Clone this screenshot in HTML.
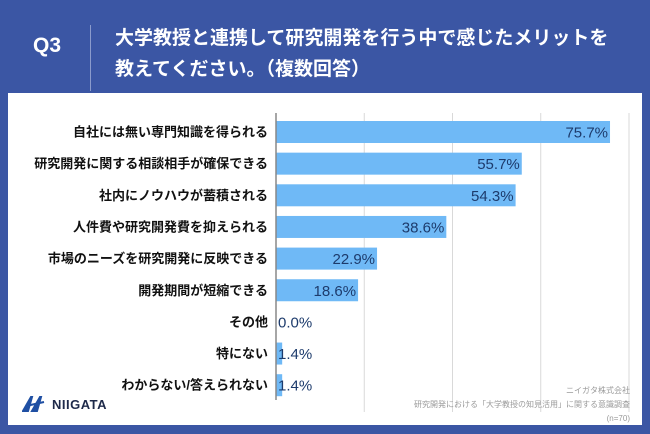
<!DOCTYPE html>
<html><head><meta charset="utf-8">
<style>
html,body{margin:0;padding:0}
body{width:650px;height:434px;background:#3b56a4;position:relative;overflow:hidden;font-family:"Liberation Sans","Noto Sans CJK JP",sans-serif}
#panel{position:absolute;left:8px;top:93px;width:634px;height:332px;background:#fff}
</style></head><body>
<div>
<div style="position:absolute;left:33px;top:34px;color:#fff;font-weight:bold;font-size:21px">Q3</div>
<div style="position:absolute;left:90px;top:25px;width:1px;height:66px;background:#8b9bcc"></div>
<div style="position:absolute;left:115px;top:23px;color:#fff;font-weight:bold;font-size:19px;line-height:31px;font-family:'Liberation Sans','Noto Sans CJK JP',sans-serif">大学教授と連携して研究開発を行う中で感じたメリットを<br>教えてください。（複数回答）</div>
</div>
<div id="panel"></div>
<svg id="chart" width="650" height="434" style="position:absolute;left:0;top:0"></svg>
<div style="position:absolute;right:20px;top:384px;text-align:right;color:#9a9a9a;font-size:8px;line-height:14px">ニイガタ株式会社<br>研究開発における「大学教授の知見活用」に関する意識調査<br>(n=70)</div>
<div style="position:absolute;left:22px;top:396px;display:flex;align-items:center;gap:6px">
<svg width="24" height="16" viewBox="0 0 24 16"><path d="M1 15 L9 1 L10 1 L6 15 Z M10 15 L18 1 L19 1 L15 15 Z M4 10 L22 6" stroke="#1f4fa3" stroke-width="2" fill="#1f4fa3"/></svg>
<span style="font-weight:bold;font-size:13px;color:#1e2a4a;letter-spacing:0.5px">NIIGATA</span></div>
<script>
const categories=["自社には無い専門知識を得られる","研究開発に関する相談相手が確保できる","社内にノウハウが蓄積される","人件費や研究開発費を抑えられる","市場のニーズを研究開発に反映できる","開発期間が短縮できる","その他","特にない","わからない/答えられない"];
const values=[75.7,55.7,54.3,38.6,22.9,18.6,0.0,1.4,1.4];
const gridTicks=[20,40,60,80];
const NS="http://www.w3.org/2000/svg";
const svg=document.getElementById('chart');
const x0=276,xMax=80,xPx=629;
const xs=v=>x0+(xPx-x0)*v/xMax;
const y0=132,step=31.65;
const ys=i=>y0+i*step;
function mk(t,a){const e=document.createElementNS(NS,t);for(const k in a)e.setAttribute(k,a[k]);svg.appendChild(e);return e;}
gridTicks.forEach(t=>{
 const g=mk('line',{x1:xs(t),x2:xs(t),y1:113,y2:412,stroke:'#d9d9d9','stroke-width':1});
 
 
});
values.forEach((v,i)=>{
 const cy=ys(i);
 const r=mk('rect',{x:x0,y:cy-11,width:Math.max(xs(v)-x0,0),height:22,fill:'#6fb9f6'});
 
 
 const l=mk('text',{x:268,y:cy+4.5,'text-anchor':'end','font-size':13,'font-weight':'bold',fill:'#111'});
 l.textContent=categories[i];
 
 
 const inside=xs(v)-x0>45;
 const t=mk('text',{x:inside?xs(v)-2:278,y:cy+5.5,'text-anchor':inside?'end':'start','font-size':15,fill:'#1d3b6c'});
 t.textContent=v.toFixed(1)+'%';
 
 
});
const ax=mk('line',{x1:x0,x2:x0,y1:113,y2:400,stroke:'#888','stroke-width':1.5});


</script>
</body></html>
